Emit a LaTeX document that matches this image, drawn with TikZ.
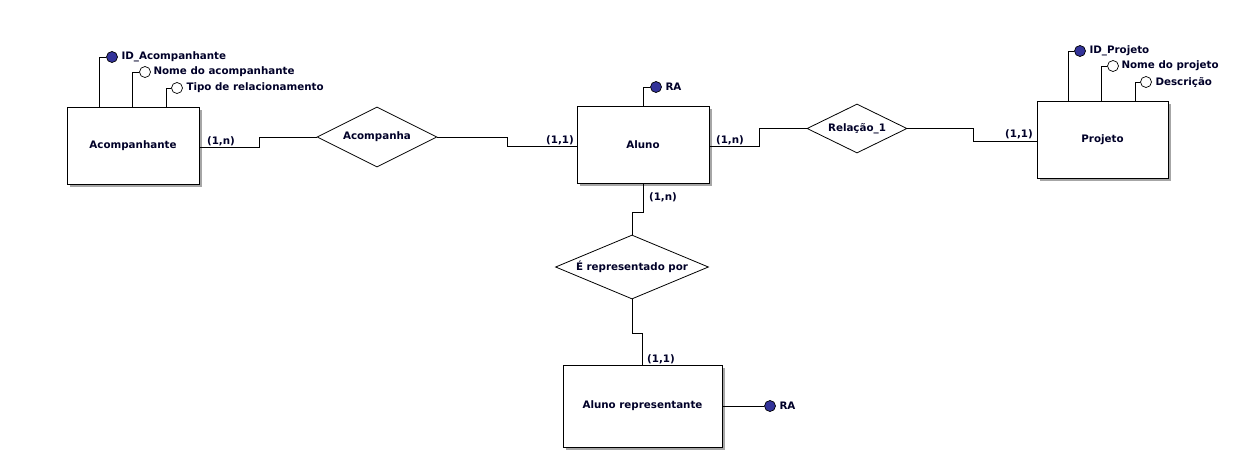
\documentclass[tikz,border=0pt]{standalone}
\usepackage{fontspec}
\setmainfont{DejaVu Sans}
\usetikzlibrary{shapes.geometric,shadows,calc}
\definecolor{txt}{RGB}{0,0,40}
\definecolor{keyfill}{RGB}{51,51,153}
\begin{document}
\begin{tikzpicture}[x=1pt,y=-1pt,line width=1pt,
  every node/.style={font=\bfseries\fontsize{10.3}{12}\selectfont,text=txt},
  entity/.style={draw,rectangle,inner sep=0pt,fill=white,
     drop shadow={shadow xshift=2.5pt,shadow yshift=-2.5pt,fill=gray!70,opacity=1}},
  rel/.style={draw,diamond,inner sep=0pt,fill=white,line width=0.8pt},
  keyattr/.style={draw,circle,inner sep=0pt,minimum size=11pt,fill=keyfill,line width=0.7pt},
  attr/.style={draw,circle,inner sep=0pt,minimum size=11pt,fill=white,line width=0.7pt},
  lbl/.style={anchor=west,inner sep=0pt},
  card/.style={inner sep=0pt}]
\useasboundingbox (0,0) rectangle (1241,456);

% entities
\node[entity,minimum width=132pt,minimum height=77pt] (acomp) at (133,145.5) {Acompanhante};
\node[entity,minimum width=132pt,minimum height=77pt] (aluno) at (643,144.5) {Aluno};
\node[entity,minimum width=131pt,minimum height=77pt] (projeto) at (1102.5,139.5) {Projeto};
\node[entity,minimum width=159pt,minimum height=82pt] (alrep) at (642.5,406) {Aluno representante};

% relationships
\node[rel,aspect=2,minimum width=120pt,minimum height=60pt] (acompanha) at (377,137) {Acompanha};
\node[rel,aspect=2.04,minimum width=100pt,minimum height=49pt] (relacao) at (857,128.5) {Relação\_1};
\node[rel,aspect=2.4,minimum width=153pt,minimum height=64pt] (erep) at (632,267) {É representado por};

% attributes of Acompanhante
\node[keyattr] (idA) at (112,57) {};
\node[lbl] (idAt) at (121,57) {ID\_Acompanhante};
\node[attr] (nomeA) at (145,72) {};
\node[lbl] (nomeAt) at (153,72) {Nome do acompanhante};
\node[attr] (tipoA) at (177,88) {};
\node[lbl] (tipoAt) at (186,88) {Tipo de relacionamento};
\draw ($(acomp.north west)+(33,0)$) |- (idA.west);
\draw ($(acomp.north west)+(66,0)$) |- (nomeA.west);
\draw ($(acomp.north west)+(100,0)$) |- (tipoA.west);

% attribute of Aluno
\node[keyattr] (raA) at (656,87) {};
\node[lbl] (raAt) at (665,87) {RA};
\draw (aluno.north) |- (raA.west);

% attributes of Projeto
\node[keyattr] (idP) at (1080,51) {};
\node[lbl] (idPt) at (1089,51) {ID\_Projeto};
\node[attr] (nomeP) at (1113,66) {};
\node[lbl] (nomePt) at (1121,66) {Nome do projeto};
\node[attr] (descP) at (1146,82) {};
\node[lbl] (descPt) at (1155,82) {Descrição};
\draw ($(projeto.north west)+(32,0)$) |- (idP.west);
\draw ($(projeto.north west)+(65,0)$) |- (nomeP.west);
\draw ($(projeto.north west)+(99,0)$) |- (descP.west);

% attribute of Aluno representante
\node[keyattr] (raB) at (770,406) {};
\node[lbl] (raBt) at (779,406) {RA};
\draw (alrep.east) -- (raB.west);

% connectors
\draw ($(acomp.east)+(0,1.5)$) -- ++(60,0) |- (acompanha.west);
\draw (acompanha.east) -- ++(70,0) |- ($(aluno.west)+(0,1.5)$);
\draw ($(aluno.east)+(0,1.5)$) -- ++(50,0) |- (relacao.west);
\draw (relacao.east) -- ++(66,0) |- ($(projeto.west)+(0,1.5)$);
\draw (aluno.south) -- ++(0,29) -| (erep.north);
\draw (erep.south) -- ++(0,34) -| (alrep.north);

% cardinalities
\node[card] (c1) at (221,141) {(1,n)};
\node[card] (c2) at (560,140) {(1,1)};
\node[card] (c3) at (730,140) {(1,n)};
\node[card] (c4) at (1019,134) {(1,1)};
\node[card] (c5) at (663,197) {(1,n)};
\node[card] (c6) at (661,359) {(1,1)};
\end{tikzpicture}
\end{document}
